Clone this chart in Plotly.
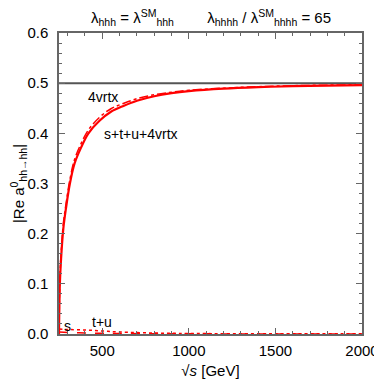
import plotly.graph_objects as go

# sqrt(s) in GeV
energy = [250, 255, 262, 275, 290, 313, 340, 378, 420, 484, 550, 625, 700, 800, 900, 1000, 1200, 1400, 1600, 1800, 2000]
total = [0.0, 0.10, 0.15, 0.21, 0.25, 0.30, 0.34, 0.372, 0.40, 0.425, 0.443, 0.455, 0.465, 0.474, 0.48, 0.484, 0.489, 0.492, 0.494, 0.495, 0.496]
vrtx4 = [0.0, 0.11, 0.16, 0.22, 0.258, 0.308, 0.348, 0.38, 0.407, 0.432, 0.449, 0.46, 0.469, 0.477, 0.482, 0.486, 0.49, 0.493, 0.495, 0.496, 0.497]

small_energy = [250, 300, 400, 500, 600, 800, 1000, 1500, 2000]
tu_vals = [0.010, 0.009, 0.008, 0.006, 0.004, 0.002, 0.001, 0.0005, 0.0003]
s_vals = [0.004, 0.003, 0.002, 0.0015, 0.001, 0.0005, 0.0003, 0.0002, 0.0001]

unitarity_bound = 0.5
x_ticks = [500, 1000, 1500, 2000]
y_ticks = [0.0, 0.1, 0.2, 0.3, 0.4, 0.5, 0.6]

labels = [
    ("4vrtx", 504, 0.472),
    ("s+t+u+4vrtx", 724, 0.398),
    ("s", 299, 0.016),
    ("t+u", 499, 0.024),
]

RED = "#ff0000"
fig = go.Figure()
fig.add_trace(go.Scatter(x=[250, 2000], y=[unitarity_bound, unitarity_bound], mode="lines",
                         line=dict(color="#555555", width=2), showlegend=False))
fig.add_trace(go.Scatter(x=small_energy, y=s_vals, mode="lines", line=dict(color=RED, width=1.5, dash="dash", shape="spline"), showlegend=False))
fig.add_trace(go.Scatter(x=small_energy, y=tu_vals, mode="lines", line=dict(color=RED, width=1.5, dash="dot", shape="spline"), showlegend=False))
fig.add_trace(go.Scatter(x=energy, y=vrtx4, mode="lines", line=dict(color=RED, width=1.5, dash="dashdot", shape="spline"), showlegend=False))
fig.add_trace(go.Scatter(x=energy, y=total, mode="lines", line=dict(color=RED, width=2.2, shape="spline"), showlegend=False))

for txt, x, y in labels:
    fig.add_annotation(x=x, y=y, text=txt, showarrow=False, font=dict(size=14, color="black"))

fig.add_annotation(xref="paper", yref="paper", x=0.5, y=1.0, yanchor="bottom", yshift=3, showarrow=False,
                   text="λ<sub>hhh</sub> = λ<sup>SM</sup><sub>hhh</sub>        λ<sub>hhhh</sub> / λ<sup>SM</sup><sub>hhhh</sub> = 65",
                   font=dict(size=15, color="black"))

axis_common = dict(showline=True, linecolor="#666666", linewidth=1.5, mirror="allticks",
                   ticks="inside", ticklen=6, tickcolor="#666666", showgrid=False, zeroline=False,
                   automargin=False, tickfont=dict(size=15, color="black"))
fig.update_xaxes(range=[250, 2000], tickvals=x_ticks, ticklabelstandoff=2,
                 minor=dict(dtick=100, tick0=0, ticks="inside", ticklen=3, tickcolor="#666666", showgrid=False),
                 title=dict(text="√<i>s</i> [GeV]", font=dict(size=15, color="black"), standoff=8),
                 **axis_common)
fig.update_yaxes(range=[0, 0.6], tickvals=y_ticks, tickformat=".1f", ticklabelstandoff=6,
                 minor=dict(dtick=0.02, tick0=0, ticks="inside", ticklen=3, tickcolor="#666666", showgrid=False),
                 title=dict(text="|Re a<sup>0</sup><sub>hh→hh</sub>|", font=dict(size=15, color="black"), standoff=6),
                 **axis_common)

# page body has an 8px default margin, so the figure is drawn slightly smaller and offset
fig.update_layout(width=374, height=380, margin=dict(l=51, r=20, t=25, b=54),
                  paper_bgcolor="white", plot_bgcolor="white",
                  font=dict(family="Liberation Sans, Arial, sans-serif", color="black"))
fig.write_html("out.html")
